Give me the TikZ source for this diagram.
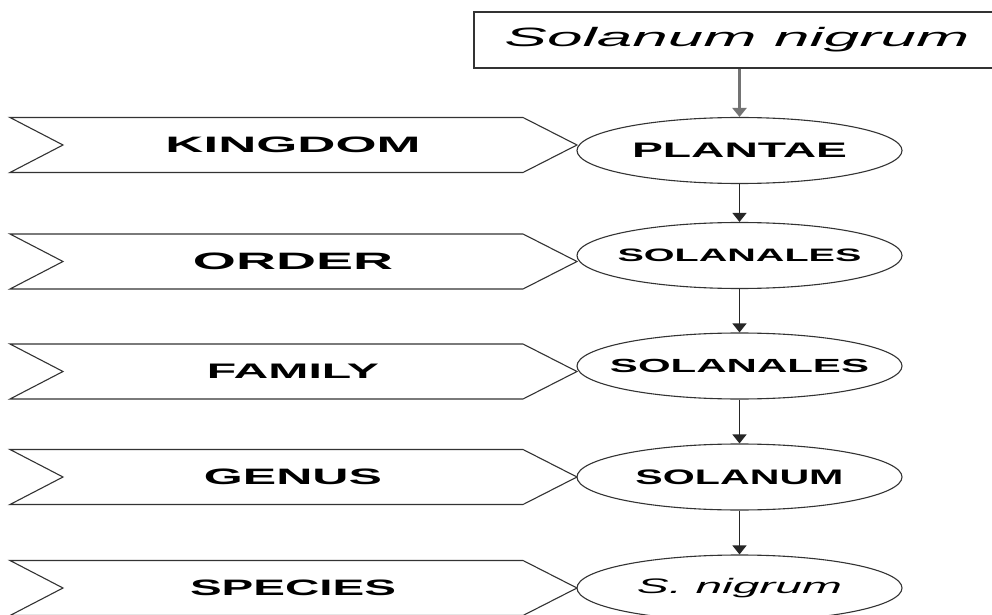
\documentclass[tikz,border=0pt]{standalone}
\usepackage{fontspec}
\usepackage{graphicx}
\setmainfont{Liberation Sans}
\usetikzlibrary{shapes.geometric,arrows.meta}
\newcommand{\wtxt}[3]{\resizebox{#1bp}{\height}{\fontsize{#2bp}{#2bp}\selectfont #3}}
\tikzset{
  line/.style={draw=black!80, line width=1.1bp},
  banner/.style={line, fill=white},
  rank/.style={ellipse, line, fill=white, minimum width=325bp, minimum height=66bp, inner sep=0pt},
  lbl/.style={inner sep=0pt, text=black},
  arr/.style={draw=black!85, line width=1.4bp, -{Triangle[width=14bp,length=9bp]}},
}
\begin{document}
\begin{tikzpicture}[x=1bp,y=-1bp]
\useasboundingbox (0,0) rectangle (992,615);
\fill[white] (0,0) rectangle (992,615);
% top box
\node[line, fill=white, minimum width=526bp, minimum height=56bp, inner sep=0pt] (top) at (737,40) {\wtxt{465}{26.5}{\itshape Solanum nigrum}};
% banners
\foreach \y/\nm/\t/\w/\s in {145/b1/KINGDOM/255/22.3, 261.5/b2/ORDER/200/23.7, 371.5/b3/FAMILY/172/21, 477/b4/GENUS/178/22.3, 588/b5/SPECIES/206/22.3}{
  \draw[banner] (10,\y-27.5) -- (523,\y-27.5) -- (577,\y) -- (523,\y+27.5) -- (10,\y+27.5) -- (63,\y) -- cycle;
  \node[lbl] (\nm) at (293,\y) {\wtxt{\w}{\s}{\bfseries \t}};
}
% ellipses (fixed size) and their labels
\node[rank] (e1) at (739.5,150.5) {};
\node[rank] (e2) at (739.5,255.5) {};
\node[rank] (e3) at (739.5,366) {};
\node[rank] (e4) at (739.5,477) {};
\node[rank] (e5) at (739.5,588) {};
\node[lbl] (t1) at (e1.center) {\wtxt{215}{21}{\bfseries PLANTAE}};
\node[lbl] (t2) at (e2.center) {\wtxt{244}{18}{\bfseries SOLANALES}};
\node[lbl] (t3) at (e3.center) {\wtxt{259}{19}{\bfseries SOLANALES}};
\node[lbl] (t4) at (e4.center) {\wtxt{208}{21}{\bfseries SOLANUM}};
\node[lbl] (t5) at (e5.center) {\wtxt{205}{21}{\itshape S. nigrum}};
% arrows
\draw[arr, draw=black!55, line width=2.2bp] (top.south -| e1.north) -- (e1.north);
\draw[arr] (e1) -- (e2);
\draw[arr] (e2) -- (e3);
\draw[arr] (e3) -- (e4);
\draw[arr] (e4) -- (e5);
\end{tikzpicture}
\end{document}
